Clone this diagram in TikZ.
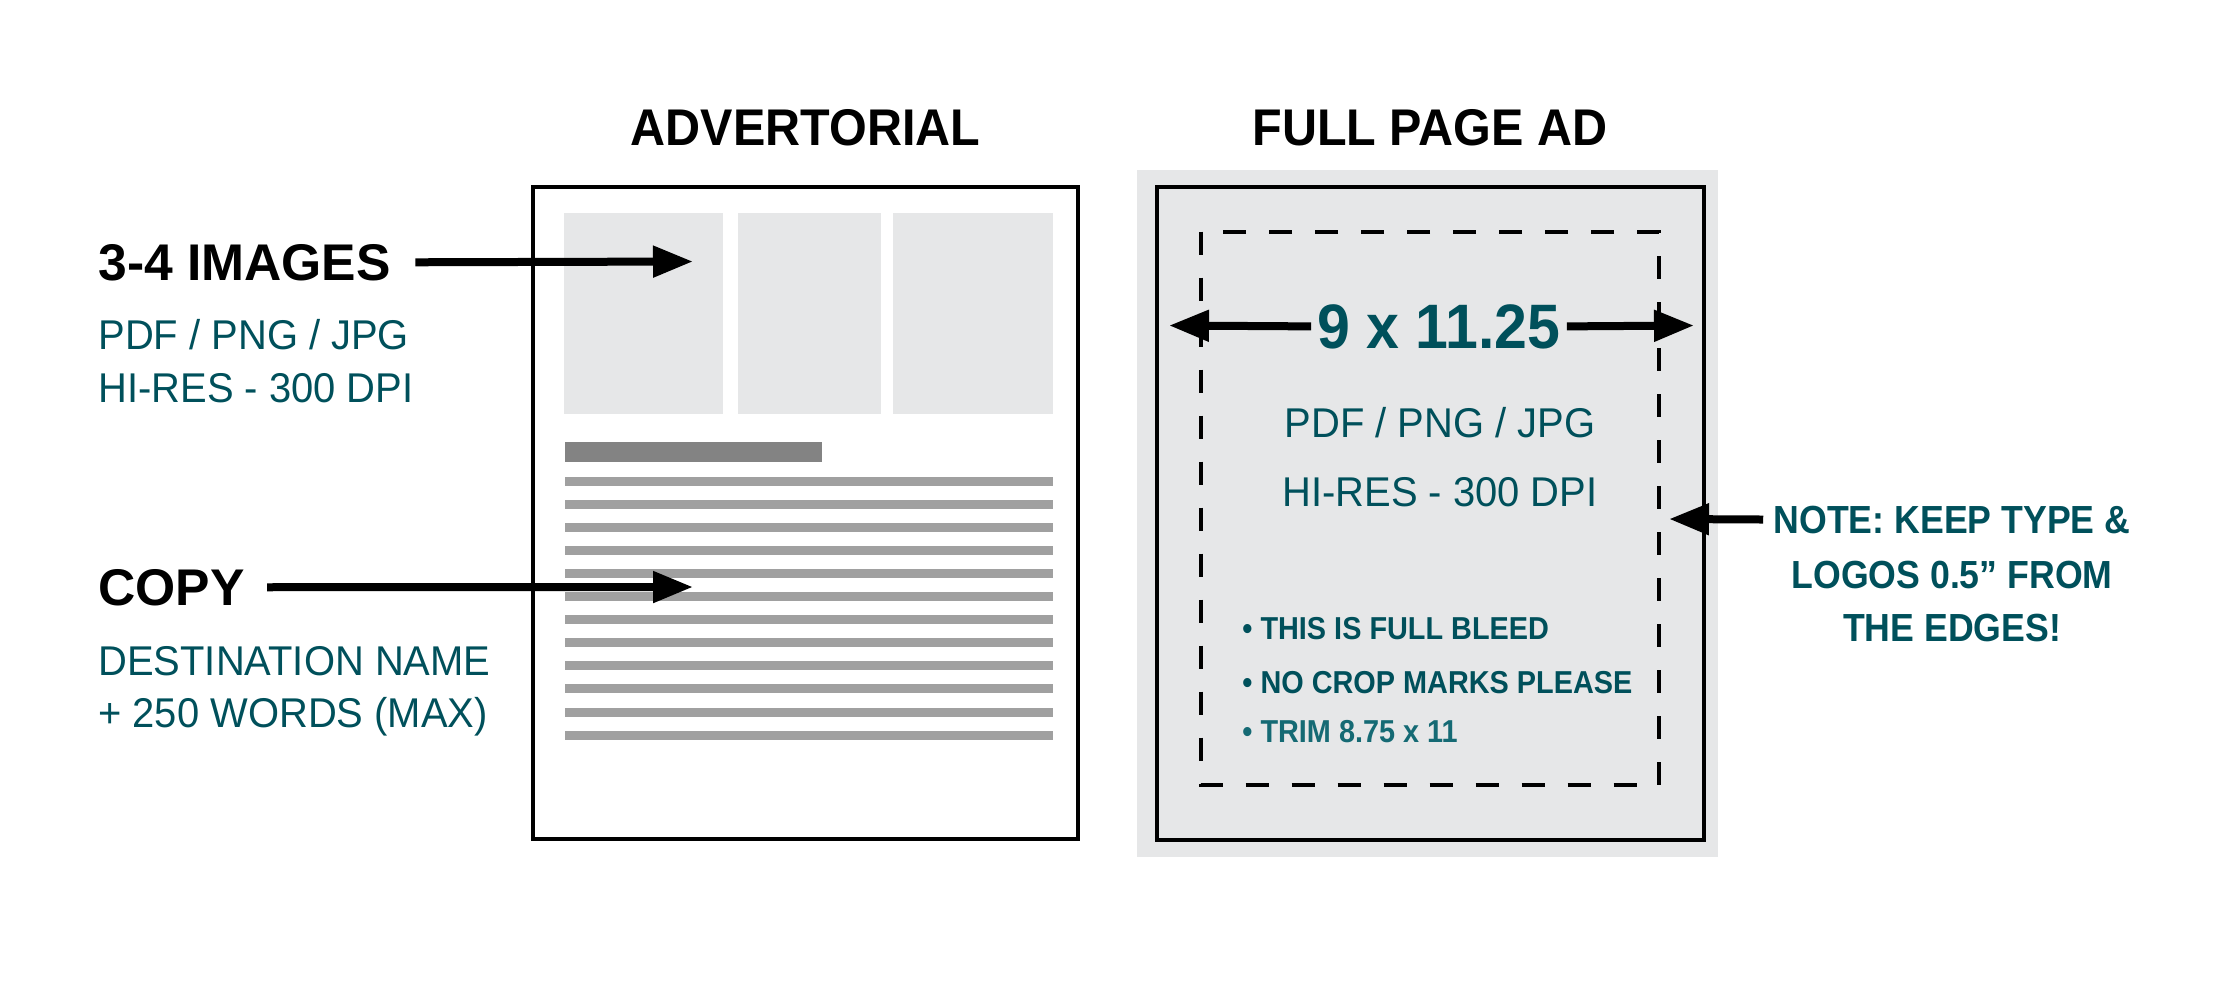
\documentclass[tikz,border=0pt]{standalone}
\usepackage{fontspec}
\setmainfont{Liberation Sans}
\newfontfamily\headfont[FakeStretch=0.94]{Liberation Sans}
\newfontfamily\subfont[FakeStretch=0.96]{Liberation Sans}
\newfontfamily\notefont[FakeStretch=0.91]{Liberation Sans}
\usetikzlibrary{arrows.meta,positioning}

\definecolor{adteal}{HTML}{00505B}
\definecolor{trimteal}{HTML}{156A74}
\definecolor{paper}{HTML}{E6E7E8}
\definecolor{barcol}{HTML}{838383}
\definecolor{linecol}{HTML}{A0A0A0}

\begin{document}
\begin{tikzpicture}[
    x=0.5pt, y=-0.5pt,
    line join=miter,
    title/.style={
        inner sep=0pt,
        font={\headfont\bfseries\fontsize{25.8pt}{30pt}\selectfont}
    },
    label/.style={
        inner sep=0pt,
        font={\bfseries\fontsize{25.8pt}{30pt}\selectfont}
    },
    sub/.style={
        inner sep=0pt,
        text=adteal,
        font={\subfont\fontsize{20.8pt}{26pt}\selectfont}
    },
    dimtext/.style={
        inner xsep=3pt, inner ysep=0pt,
        text=adteal,
        font={\headfont\bfseries\fontsize{31.4pt}{36pt}\selectfont}
    },
    bullet/.style={
        inner sep=0pt,
        text=adteal,
        font={\notefont\bfseries\fontsize{15.85pt}{19pt}\selectfont}
    },
    note/.style={
        inner sep=0pt,
        text=adteal,
        font={\notefont\bfseries\fontsize{19.6pt}{24pt}\selectfont}
    },
    page/.style={draw, line width=2pt},
    pointer/.style={-{Triangle[length=20pt,width=15pt]}, line width=4pt}
]
\useasboundingbox (0,0) rectangle (2216,982);

% =========================
% Advertorial page
% =========================
\draw[page] (533,187) rectangle (1078,839);
\fill[paper] (564,212.5) rectangle (723,414);
\fill[paper] (738,212.5) rectangle (881,414);
\fill[paper] (893,212.5) rectangle (1053,414);
\fill[barcol] (565,442) rectangle (822,462);
\foreach \i in {0,...,11}
    \fill[linecol] (565,476.5+23.1*\i) rectangle (1053,485.5+23.1*\i);

% =========================
% Full page ad
% =========================
\fill[paper] (1137,170) rectangle (1718,857);
\draw[page] (1157,187) rectangle (1703.5,840);
\draw[line width=2pt, dash pattern=on 11.5pt off 11.5pt] (1201,231.5) rectangle (1659,785);

% =========================
% Titles
% =========================
\node[title, anchor=base] (advtitle) at (805.5,145) {ADVERTORIAL};
\node[title, anchor=base] (fulltitle) at (1430,145) {FULL PAGE AD};

% =========================
% Left labels
% =========================
\node[label, anchor=base west] (imglabel) at (98,280) {3-4 IMAGES};
\node[sub, anchor=base west] (imgfmt) at (98,349) {PDF / PNG / JPG};
\node[sub, below=26.5pt of imgfmt.base west, anchor=base west] (imgres) {HI-RES - 300 DPI};

\node[label, anchor=base west] (copylabel) at (98,605) {COPY};
\node[sub, anchor=base west] (copyname) at (98,675) {DESTINATION NAME};
\node[sub, below=26.25pt of copyname.base west, anchor=base west] (copywords) {+ 250 WORDS (MAX)};

\coordinate (imgtip) at (693,261.5);
\coordinate (copytip) at (693,587);

% =========================
% Full page texts
% =========================
\node[dimtext, anchor=base] (dim) at (1439,348) {9 x 11.25};
\coordinate (dimleft) at (1169,325.5);
\coordinate (dimright) at (1694,325.5);

\node[sub, anchor=base] (adfmt) at (1440,437) {PDF / PNG / JPG};
\node[sub, anchor=base] (adres) at (1440,506) {HI-RES - 300 DPI};

\node[bullet, anchor=base west] (bleed) at (1242,639) {• THIS IS FULL BLEED};
\node[bullet, anchor=base west] (crop) at (1242,693) {• NO CROP MARKS PLEASE};
\node[bullet, anchor=base west, text=trimteal] (trim) at (1242,742) {• TRIM 8.75 x 11};

% =========================
% Note
% =========================
\node[note, anchor=base] (note1) at (1952,533) {NOTE: KEEP TYPE \&};
\node[note, anchor=base] (note2) at (1952,588) {LOGOS 0.5” FROM};
\node[note, anchor=base] (note3) at (1952,641) {THE EDGES!};
\coordinate (notetip) at (1669,519);

% =========================
% Arrows
% =========================
\draw[pointer] ([xshift=12pt]imglabel.east) -- (imgtip);
\draw[pointer] ([xshift=11pt]copylabel.east) -- (copytip);
\draw[pointer] (dim.west) -- (dimleft);
\draw[pointer] (dim.east) -- (dimright);
\draw[pointer] ([xshift=-5pt]note1.west) -- (notetip);

\end{tikzpicture}
\end{document}
